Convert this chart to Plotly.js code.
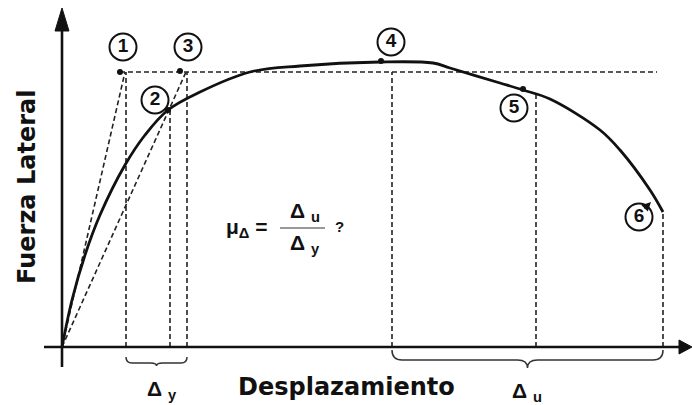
<!DOCTYPE html>
<html>
<head>
<meta charset="utf-8">
<script src="https://cdn.plot.ly/plotly-3.0.1.min.js"></script>
<style>
  html, body { margin: 0; padding: 0; background: #fff; }
  #chart { width: 692px; height: 405px; }
</style>
</head>
<body>
<div id="chart"></div>
<script>
// Capacity curve: lateral force vs. displacement (arbitrary units)
const curveDisp  = [0, 10, 23, 38, 63, 83, 106, 138, 188, 238, 318, 371, 388, 438, 461, 488, 538, 558, 588, 601];
const curveForce = [0, 47, 92, 132, 182, 212, 237, 255, 275, 281, 285, 284, 279, 264, 257, 248, 217, 197, 157, 135];

// Marked points ① ... ⑤ on the diagram
const pointLabels = ['1', '2', '3', '4', '5', '6'];
const pointDisp   = [58, 106, 118, 319, 461];
const pointForce  = [275, 237, 276, 286, 258];

// Idealised yield plateau
const plateauForce = 275;
const plateauStart = 58;
const plateauEnd   = 595;

// Secant lines from the origin to the plateau
const secantDisp = [63, 124];

// Vertical projection lines: displacement and top force
const projDisp  = [64, 108, 125, 330, 474, 601];
const projForce = [275, 237, 275, 275, 253, 135];

// Brace spans under the displacement axis
const yieldSpan    = [64, 125];   // Δy
const ultimateSpan = [330, 601];  // Δu

// Axis extents
const dispAxis  = [-18, 630];
const forceAxis = [-20, 339];

// ---- styling constants ----
const ink = '#111111';
const dashStyle = '5px,3px';

// Reference lines as one trace with gaps
const refX = [], refY = [];
refX.push(plateauStart, plateauEnd, null); refY.push(plateauForce, plateauForce, null);
secantDisp.forEach(d => { refX.push(0, d, null); refY.push(0, plateauForce, null); });
projDisp.forEach((d, i) => { refX.push(d, d, null); refY.push(0, projForce[i], null); });

const traces = [];
traces.push({
  x: refX, y: refY, mode: 'lines', connectgaps: false, hoverinfo: 'skip',
  line: { color: '#222', width: 1.6, dash: dashStyle }
});

traces.push({
  x: curveDisp, y: curveForce, mode: 'lines', hoverinfo: 'skip',
  line: { color: ink, width: 2.8, shape: 'spline', smoothing: 1.0 }
});

// Axes drawn as lines with arrowheads
traces.push({
  x: [0, 0, null, dispAxis[0], dispAxis[1] - 10], y: [forceAxis[0], forceAxis[1] - 20, null, 0, 0],
  mode: 'lines', hoverinfo: 'skip', connectgaps: false,
  line: { color: ink, width: 2.6 }
});
const headW = 7, headL = 23, headWx = 7, headLx = 13;
traces.push({
  x: [-headW, headW, 0, -headW], y: [forceAxis[1] - headL, forceAxis[1] - headL, forceAxis[1], forceAxis[1] - headL],
  mode: 'lines', fill: 'toself', fillcolor: ink, line: { color: ink, width: 1 }, hoverinfo: 'skip'
});
traces.push({
  x: [dispAxis[1] - headLx, dispAxis[1] - headLx, dispAxis[1], dispAxis[1] - headLx], y: [-headWx, headWx, 0, -headWx],
  mode: 'lines', fill: 'toself', fillcolor: ink, line: { color: ink, width: 1 }, hoverinfo: 'skip'
});

// Dots on marked points
traces.push({
  x: pointDisp, y: pointForce, mode: 'markers', hoverinfo: 'skip',
  marker: { color: ink, size: 6 }
});

// Circled point labels (offsets from each point, in axis units)
const labelOffset = [[3, 25], [-13, 10], [8, 24], [10, 19], [-9, -19]];
const labelX = pointDisp.map((d, i) => d + labelOffset[i][0]).concat([577]);
const labelY = pointForce.map((f, i) => f + labelOffset[i][1]).concat([130]);
traces.push({
  x: labelX, y: labelY, mode: 'markers+text', hoverinfo: 'skip',
  text: pointLabels, textposition: 'middle center',
  textfont: { family: 'Liberation Sans, Arial, sans-serif', size: 19, color: ink, weight: 'bold' },
  marker: { symbol: 'circle-open', size: 27, color: ink, line: { width: 2, color: ink } }
});

// Brace path from a span
function bracePath(span, yEnd, yFlat, yTip, r) {
  const [a, b] = span, m = (a + b) / 2;
  return `M ${a},${yEnd} Q ${a},${yFlat} ${a + r},${yFlat} L ${m - r},${yFlat} ` +
         `Q ${m},${yFlat} ${m},${yTip} Q ${m},${yFlat} ${m + r},${yFlat} ` +
         `L ${b - r},${yFlat} Q ${b},${yFlat} ${b},${yEnd}`;
}

const shapes = [
  { type: 'path', xref: 'x', yref: 'y', path: bracePath(yieldSpan, -10, -16, -19, 6), line: { color: '#333', width: 1.5 } },
  { type: 'path', xref: 'x', yref: 'y', path: bracePath(ultimateSpan, -3, -13, -21, 10), line: { color: '#333', width: 1.5 } },
  // fraction bar of the ductility formula
  { type: 'line', xref: 'x', yref: 'y', x0: 218, x1: 263, y0: 119, y1: 119, line: { color: '#777', width: 1.5 } }
];

const fBold = { family: 'Liberation Sans, Arial, sans-serif', size: 21, color: ink, weight: 'bold' };
const fTitle = { family: 'DejaVu Sans, sans-serif', size: 24, color: ink, weight: 'bold' };

const annotations = [
  { x: 284, y: -40, text: '<b>Desplazamiento</b>', showarrow: false, font: fTitle, xref: 'x', yref: 'y' },
  { x: -35, y: 160, text: '<b>Fuerza Lateral</b>', showarrow: false, font: fTitle, textangle: -90, xref: 'x', yref: 'y' },
  { x: (yieldSpan[0] + yieldSpan[1]) / 2 + 5, y: -43, text: '<b>Δ <sub>y</sub></b>', showarrow: false, font: fBold, xref: 'x', yref: 'y' },
  { x: (ultimateSpan[0] + ultimateSpan[1]) / 2 - 1, y: -45, text: '<b>Δ <sub>u</sub></b>', showarrow: false, font: fBold, xref: 'x', yref: 'y' },
  { x: 185, y: 119, text: '<b>μ<sub>Δ</sub> =</b>', showarrow: false, font: fBold, xref: 'x', yref: 'y' },
  { x: 243, y: 135, text: '<b>Δ <sub>u</sub></b>', showarrow: false, font: fBold, xref: 'x', yref: 'y' },
  { x: 243, y: 103, text: '<b>Δ <sub>y</sub></b>', showarrow: false, font: fBold, xref: 'x', yref: 'y' },
  { x: 277, y: 121, text: '<b>?</b>', showarrow: false, font: { ...fBold, size: 15 }, xref: 'x', yref: 'y' },
  // pointer inside label ⑥
  { x: 589, y: 145, ax: 581, ay: 137, axref: 'x', ayref: 'y', xref: 'x', yref: 'y', text: '',
    showarrow: true, arrowhead: 2, arrowsize: 1, arrowwidth: 1.8, arrowcolor: ink }
];

const layout = {
  width: 692, height: 405,
  margin: { l: 0, r: 0, t: 0, b: 0 },
  paper_bgcolor: '#fff', plot_bgcolor: '#fff',
  showlegend: false,
  xaxis: { range: [-62, 630], visible: false, fixedrange: true },
  yaxis: { range: [-58, 347], visible: false, fixedrange: true },
  shapes: shapes,
  annotations: annotations
};

Plotly.newPlot('chart', traces, layout, { staticPlot: true, displayModeBar: false });
</script>
</body>
</html>
